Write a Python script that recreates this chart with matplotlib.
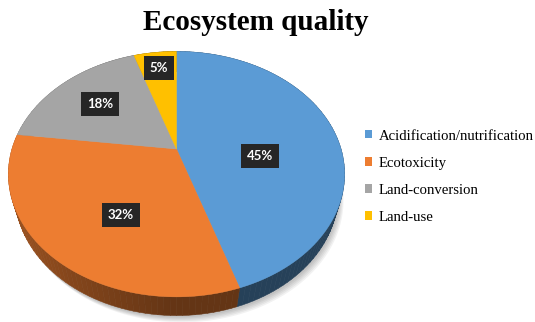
import numpy as np
import matplotlib
matplotlib.use("Agg")
import matplotlib.pyplot as plt
from matplotlib.patches import Polygon, Patch
from matplotlib.collections import PolyCollection

# ---- data ----
categories = ["Acidification/nutrification", "Ecotoxicity", "Land-conversion", "Land-use"]
values = [45, 32, 18, 5]
pct_labels = ["45%", "32%", "18%", "5%"]
title = "Ecosystem quality"

# ---- style / layout ----
top_colors = ["#5b9bd5", "#ed7d31", "#a5a5a5", "#ffc000"]
label_r = [0.52, 0.49, 0.654, 0.80]
label_dy = [16.5, 17.8, 0.0, -1.3]

W, H = 535, 322
fig = plt.figure(figsize=(W / 100, H / 100), dpi=100)
ax = fig.add_axes([0, 0, 1, 1])
ax.set_xlim(0, W)
ax.set_ylim(H, 0)
ax.axis("off")

# perspective projection of a tilted disc
cx, cy = 176.5, 149.0
phi = np.deg2rad(45.6)
D = 3.41
F = 561.0
h = 0.185


def proj(X, Z, Y=0.0):
    X = np.asarray(X, float)
    Z = np.asarray(Z, float)
    v = Y * np.cos(phi) + Z * np.sin(phi)
    w = D - Y * np.sin(phi) + Z * np.cos(phi)
    return cx + F * X / w, cy - F * v / w, w


fr = np.array(values, float) / np.sum(values)
edges = np.concatenate([[0], np.cumsum(fr)]) * 2 * np.pi  # clockwise from 12 o'clock

# shadow
tt = np.linspace(0, 2 * np.pi, 300)
for k in range(5):
    sx, sy, _ = proj(np.sin(tt), np.cos(tt), -h)
    ax.add_patch(Polygon(np.c_[sx + 1.5 + k * 1.0, sy + 2 + k * 1.2], closed=True,
                         fc="#000000", ec="none", alpha=0.05, zorder=1))

# side walls
quads, qcols, qdepth = [], [], []
for i in range(len(values)):
    n = max(4, int(200 * fr[i]))
    th = np.linspace(edges[i], edges[i + 1], n + 1)
    X, Z = np.sin(th), np.cos(th)
    tx, ty, tw = proj(X, Z, 0.0)
    bx, by, bw = proj(X, Z, -h)
    base = np.array(matplotlib.colors.to_rgb(top_colors[i]))
    for j in range(n):
        q = [(tx[j], ty[j]), (tx[j + 1], ty[j + 1]), (bx[j + 1], by[j + 1]), (bx[j], by[j])]
        xm = 0.5 * (X[j] + X[j + 1])
        f = 0.42 + 0.26 * max(0.0, -xm)
        quads.append(q)
        qcols.append(tuple(base * f))
        qdepth.append(0.5 * (tw[j] + tw[j + 1]))
order = np.argsort(qdepth)[::-1]
pc = PolyCollection([quads[k] for k in order], facecolors=[qcols[k] for k in order],
                    edgecolors=[qcols[k] for k in order], linewidths=0.4, zorder=2)
ax.add_collection(pc)

# top faces
for i in range(len(values)):
    n = max(4, int(300 * fr[i]))
    th = np.linspace(edges[i], edges[i + 1], n + 1)
    X = np.concatenate([[0], np.sin(th)])
    Z = np.concatenate([[0], np.cos(th)])
    px, py, _ = proj(X, Z, 0.0)
    ax.add_patch(Polygon(np.c_[px, py], closed=True, fc=top_colors[i],
                         ec=top_colors[i], lw=0.3, zorder=3))

# percentage labels
for i in range(len(values)):
    m = 0.5 * (edges[i] + edges[i + 1])
    lx, ly, _ = proj(label_r[i] * np.sin(m), label_r[i] * np.cos(m), 0.0)
    ax.text(lx, ly + label_dy[i], pct_labels[i], ha="center", va="center",
            fontsize=9.5, fontweight="bold", family="Lato", color="white", zorder=5,
            bbox=dict(boxstyle="square,pad=0.45", fc="#262626", ec="none"))

# title
fig.text(256 / W, 1 - 23 / H, title, ha="center", va="center", fontsize=21,
         fontweight="bold", family="Liberation Serif", color="black")

# legend
handles = [Patch(facecolor=c, edgecolor="none") for c in top_colors]
leg = ax.legend(handles, categories, loc="upper left",
                bbox_to_anchor=(365 / W, 1 - 129.5 / H),
                frameon=False, prop={"family": "Liberation Serif", "size": 10.6},
                handlelength=0.5, handleheight=0.5, handletextpad=0.42,
                labelspacing=0.96, borderaxespad=0, borderpad=0)

fig.savefig("out.png", dpi=100)
